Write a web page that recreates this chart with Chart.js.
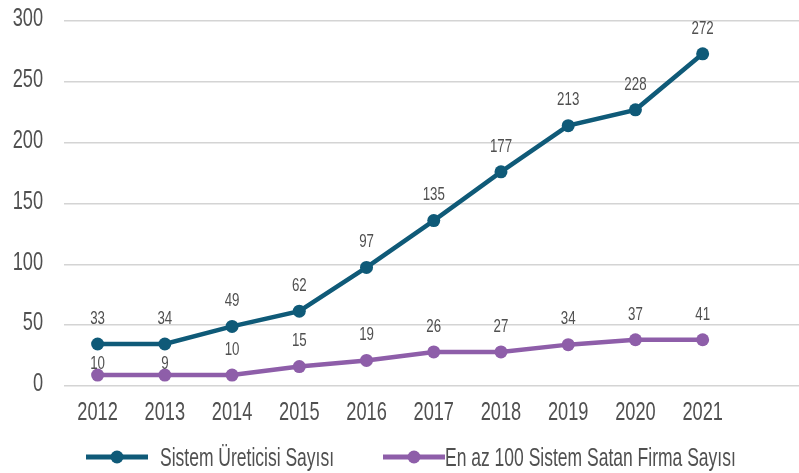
<!DOCTYPE html>
<html lang="tr">
<head>
<meta charset="UTF-8">
<title>Sistem Üreticisi Sayısı</title>
<script src="https://cdn.jsdelivr.net/npm/chart.js@4"></script>
<style>
  html, body { margin: 0; padding: 0; background: #fff; overflow: hidden; }
  #wrap { position: relative; width: 810px; height: 473px; }
</style>
</head>
<body>
<div id="wrap"><canvas id="chart" width="810" height="473"></canvas></div>
<script>
// categories (last slot is empty, as in the original)
const years = ['2012', '2013', '2014', '2015', '2016', '2017', '2018', '2019', '2020', '2021', ''];

// plotted values
const ureticiValues = [34.5, 34.5, 49, 61.5, 97.5, 136, 176, 214, 227, 273];
const firmaValues   = [9, 9, 9, 16, 21, 28, 28, 34, 38, 38];

// value labels as printed on the chart
const ureticiLabels = ['33', '34', '49', '62', '97', '135', '177', '213', '228', '272'];
const firmaLabels   = ['10', '9', '10', '15', '19', '26', '27', '34', '37', '41'];

const yTicks = [0, 50, 100, 150, 200, 250, 300];

const BLUE = '#0f5a78';
const PURPLE = '#8e5ea9';
const TEXT = '#505050';
const FONT = '"Liberation Sans", Arial, sans-serif';
const SQUEEZE = 0.7;   // the original uses a condensed face

// draw horizontally condensed text; y is the vertical centre of the digits/caps
function narrowText(ctx, str, x, y, size, align) {
  ctx.save();
  ctx.font = size + 'px ' + FONT;
  ctx.fillStyle = TEXT;
  ctx.textBaseline = 'alphabetic';
  ctx.textAlign = align;
  ctx.translate(x, y + size * 0.716 / 2);
  ctx.scale(SQUEEZE, 1);
  ctx.fillText(str, 0, 0);
  ctx.restore();
}

// axis tick labels, placed from the chart's own scales
const tickText = {
  id: 'tickText',
  afterDraw(chart) {
    const ctx = chart.ctx;
    const xs = chart.scales.x, ys = chart.scales.y;
    years.forEach((lab, i) => {
      if (lab) narrowText(ctx, lab, xs.getPixelForValue(i), 411, 26, 'center');
    });
    yTicks.forEach(v => narrowText(ctx, String(v), 43, ys.getPixelForValue(v) - 4, 26, 'right'));
  }
};

// value labels above the points; the lower series drops its label
// closer to the point when the upper line sits just above it
const valueLabels = {
  id: 'valueLabels',
  afterDatasetsDraw(chart) {
    const ctx = chart.ctx;
    const top = chart.getDatasetMeta(0).data;
    chart.data.datasets.forEach((ds, di) => {
      chart.getDatasetMeta(di).data.forEach((pt, i) => {
        let off = 27;
        if (di === 1 && top[i] && pt.y - top[i].y < 40) off = 13;
        narrowText(ctx, ds.valueText[i], pt.x, pt.y - off, 19, 'center');
      });
    });
  }
};

// legend: line with a dot in the middle, then the text
const lineLegend = {
  id: 'lineLegend',
  afterDraw(chart) {
    const ctx = chart.ctx;
    const y = 457;
    const starts = [86, 383];
    const gaps = [74, 62];
    chart.data.datasets.forEach((ds, di) => {
      const x0 = starts[di];
      ctx.save();
      ctx.strokeStyle = ds.borderColor;
      ctx.lineWidth = 5;
      ctx.beginPath();
      ctx.moveTo(x0, y);
      ctx.lineTo(x0 + 62, y);
      ctx.stroke();
      ctx.fillStyle = ds.borderColor;
      ctx.beginPath();
      ctx.arc(x0 + 31, y, 6.5, 0, Math.PI * 2);
      ctx.fill();
      ctx.restore();
      narrowText(ctx, ds.label, x0 + gaps[di], y, 25, 'left');
    });
  }
};

new Chart(document.getElementById('chart'), {
  type: 'line',
  data: {
    labels: years,
    datasets: [
      {
        label: 'Sistem Üreticisi Sayısı',
        data: ureticiValues,
        valueText: ureticiLabels,
        borderColor: BLUE,
        backgroundColor: BLUE,
        borderWidth: 4.5,
        pointRadius: 6.5,
        pointBorderWidth: 0,
        tension: 0
      },
      {
        label: 'En az 100 Sistem Satan Firma Sayısı',
        data: firmaValues,
        valueText: firmaLabels,
        borderColor: PURPLE,
        backgroundColor: PURPLE,
        borderWidth: 4.5,
        pointRadius: 6.5,
        pointBorderWidth: 0,
        tension: 0
      }
    ]
  },
  options: {
    responsive: false,
    animation: false,
    layout: { padding: { top: 21, right: 0, bottom: 0, left: 0 } },
    plugins: {
      legend: { display: false },
      tooltip: { enabled: false }
    },
    scales: {
      x: {
        offset: true,
        afterFit: s => { s.height = 87; },
        grid: { display: false, drawTicks: false },
        border: { display: false },
        ticks: { display: false, autoSkip: false }
      },
      y: {
        min: 0,
        max: 300,
        afterBuildTicks: s => { s.ticks = yTicks.map(v => ({ value: v })); },
        afterFit: s => { s.width = 64; },
        grid: { color: '#d4d4d4', lineWidth: 1.5, drawTicks: false },
        border: { display: false },
        ticks: { display: false }
      }
    }
  },
  plugins: [valueLabels, tickText, lineLegend]
});
</script>
</body>
</html>
